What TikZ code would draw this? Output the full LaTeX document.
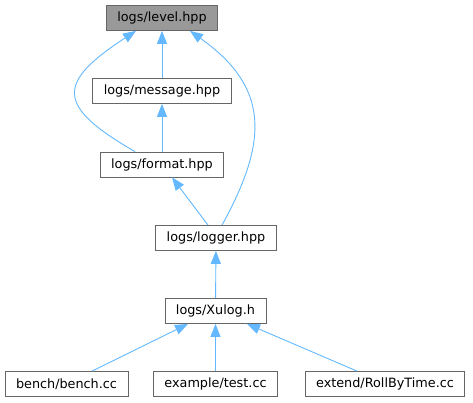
\documentclass[tikz,border=0pt]{standalone}
\usepackage{fontspec}
\setmainfont{DejaVu Sans}
\usepackage{xcolor}
\usepackage{tikz}
\usetikzlibrary{arrows.meta, positioning}
\definecolor{edgeblue}{HTML}{63B8FF}
\definecolor{nodeline}{HTML}{666666}
\definecolor{nodegray}{HTML}{999999}

\tikzset{
  file/.style={draw=nodeline, fill=white, line width=0.8pt, minimum height=25pt, inner xsep=11pt,
    font=\fontsize{12.8}{15}\selectfont},
  rootfile/.style={file, fill=nodegray},
  incl/.style={draw=edgeblue, line width=0.9pt, {Triangle[length=13pt,width=10pt]}-}
}

\begin{document}
\begin{tikzpicture}[x=1pt, y=1pt]
  \useasboundingbox (0,0) rectangle (473,403);

  \node[rootfile] (level)   at (162,385)   {logs/level.hpp};
  \node[file]     (message) at (162,312)   {logs/message.hpp};
  \node[file]     (format)  at (162,238.5) {logs/format.hpp};
  \node[file]     (logger)  at (216,165)   {logs/logger.hpp};
  \node[file]     (xulog)   at (215.5,92)  {logs/Xulog.h};
  \node[file]     (bench)   at (66.5,19)   {bench/bench.cc};
  \node[file]     (test)    at (215.5,19)  {example/test.cc};
  \node[file]     (roll)    at (385,19)    {extend/RollByTime.cc};

  % includes, arrow points at the included file
  \draw[incl] (level) -- (message);
  \draw[incl] (message) -- (format);
  \draw[incl] ([xshift=-26pt]level.south) .. controls (56,320) and (56,297) .. ([xshift=-27pt]format.north);
  \draw[incl] ([xshift=28pt]level.south) .. controls (269,316) and (269,263) .. ([xshift=6pt]logger.north);
  \draw[incl] ([xshift=10pt]format.south) -- ([xshift=-8pt]logger.north);
  \draw[incl] (logger) -- (xulog);
  \draw[incl] ([xshift=-27.5pt]xulog.south) -- ([xshift=25.5pt]bench.north);
  \draw[incl] (xulog) -- (test);
  \draw[incl] ([xshift=31.5pt]xulog.south) -- ([xshift=-28pt]roll.north);
\end{tikzpicture}
\end{document}
